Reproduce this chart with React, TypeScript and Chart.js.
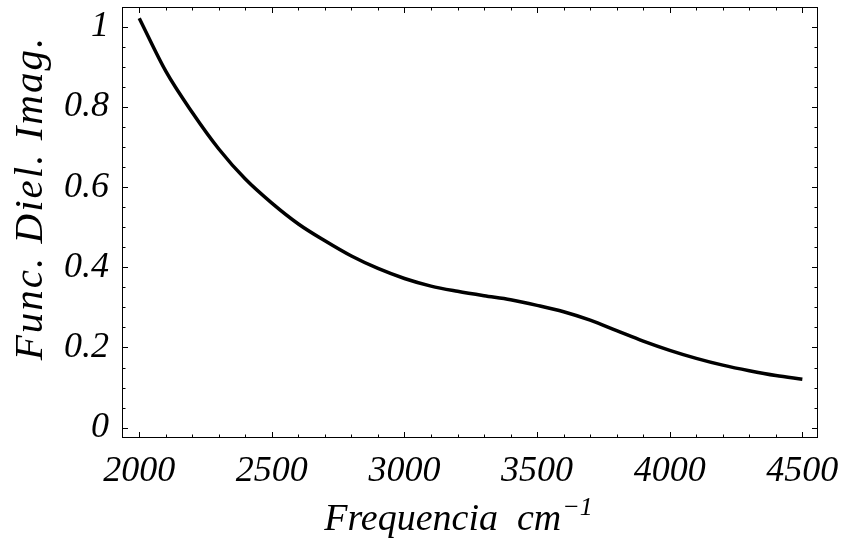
import React, { useEffect, useRef } from "react";
import { Chart, registerables } from "chart.js";

Chart.register(...registerables);

// ---- data ----
const frequencies = [
  2000, 2100, 2200, 2300, 2400, 2500, 2600, 2700, 2800, 2900, 3000, 3100, 3200,
  3300, 3400, 3500, 3600, 3700, 3800, 3900, 4000, 4100, 4200, 4300, 4400, 4500,
];
const dielImag = [
  1.021, 0.889, 0.786, 0.695, 0.62, 0.56, 0.508, 0.466, 0.428, 0.397, 0.372,
  0.353, 0.34, 0.329, 0.319, 0.305, 0.289, 0.268, 0.242, 0.216, 0.193, 0.173,
  0.156, 0.142, 0.13, 0.121,
];
const xTickValues = [2000, 2500, 3000, 3500, 4000, 4500];
const yTickValues = [0, 0.2, 0.4, 0.6, 0.8, 1];
const xMinorTicks = [
  2000, 2100, 2200, 2300, 2400, 2500, 2600, 2700, 2800, 2900, 3000, 3100, 3200,
  3300, 3400, 3500, 3600, 3700, 3800, 3900, 4000, 4100, 4200, 4300, 4400, 4500,
];
const yMinorTicks = [
  0, 0.05, 0.1, 0.15, 0.2, 0.25, 0.3, 0.35, 0.4, 0.45, 0.5, 0.55, 0.6, 0.65, 0.7,
  0.75, 0.8, 0.85, 0.9, 0.95, 1,
];
const xTitle = "Frequencia  cm";
const xTitleSup = "\u22121";
const yTitle = "Func. Diel. Imag.";

const FONT = "'Liberation Serif', 'Times New Roman', serif";

const framePlugin = {
  id: "frameTicks",
  afterDatasetsDraw(chart: any) {
    const { ctx, chartArea, scales } = chart;
    const { left, right, top, bottom } = chartArea;
    const xs = scales.x;
    const ys = scales.y;
    ctx.save();
    ctx.strokeStyle = "#000";
    ctx.lineWidth = 1;
    ctx.strokeRect(left + 0.5, top + 0.5, right - left - 1, bottom - top - 1);
    ctx.beginPath();
    xMinorTicks.forEach((v) => {
      const major = xTickValues.includes(v);
      const len = major ? 6 : 3.5;
      const px = Math.round(xs.getPixelForValue(v)) + 0.5;
      ctx.moveTo(px, bottom);
      ctx.lineTo(px, bottom - len);
      ctx.moveTo(px, top);
      ctx.lineTo(px, top + len);
    });
    yMinorTicks.forEach((v) => {
      const major = yTickValues.some((t) => Math.abs(t - v) < 1e-9);
      const len = major ? 6 : 3.5;
      const py = Math.round(ys.getPixelForValue(v)) + 0.5;
      ctx.moveTo(left, py);
      ctx.lineTo(left + len, py);
      ctx.moveTo(right, py);
      ctx.lineTo(right - len, py);
    });
    ctx.stroke();
    ctx.restore();
  },
  afterDraw(chart: any) {
    const { ctx } = chart;
    ctx.save();
    ctx.fillStyle = "#000";
    // x title with superscript
    ctx.textBaseline = "alphabetic";
    ctx.textAlign = "left";
    ctx.font = `italic 38px ${FONT}`;
    const w1 = ctx.measureText(xTitle).width;
    ctx.font = `italic 26px ${FONT}`;
    const w2 = ctx.measureText(xTitleSup).width;
    const startX = 458 - (w1 + w2) / 2;
    ctx.font = `italic 38px ${FONT}`;
    ctx.fillText(xTitle, startX, 530);
    ctx.font = `italic 26px ${FONT}`;
    ctx.fillText(xTitleSup, startX + w1 + 1, 515);
    // y title rotated
    ctx.translate(42, 198);
    ctx.rotate(-Math.PI / 2);
    ctx.textAlign = "center";
    ctx.font = `italic 41px ${FONT}`;
    (ctx as any).letterSpacing = "2px";
    ctx.fillText(yTitle, 0, 0);
    (ctx as any).letterSpacing = "0px";
    ctx.restore();
  },
};

export default function App() {
  const ref = useRef<HTMLCanvasElement | null>(null);
  useEffect(() => {
    if (!ref.current) return;
    const chart = new Chart(ref.current, {
      type: "line",
      data: {
        datasets: [
          {
            data: frequencies.map((f, i) => ({ x: f, y: dielImag[i] })),
            borderColor: "#000",
            borderWidth: 3.5,
            pointRadius: 0,
            cubicInterpolationMode: "monotone",
            fill: false,
          },
        ],
      },
      options: {
        animation: false,
        responsive: false,
        devicePixelRatio: 1,
        layout: { padding: { top: 7, right: 29, left: 0, bottom: 0 } },
        plugins: { legend: { display: false }, tooltip: { enabled: false } },
        scales: {
          x: {
            type: "linear",
            min: 1935,
            max: 4559,
            grid: { display: false, drawTicks: false },
            border: { display: false },
            afterFit: (s: any) => {
              s.height = 108;
              s.paddingLeft = 0;
              s.paddingRight = 0;
              s.paddingTop = 0;
              s.paddingBottom = 0;
            },
            afterBuildTicks: (s: any) => {
              s.ticks = xTickValues.map((v) => ({ value: v }));
            },
            ticks: {
              autoSkip: false,
              maxRotation: 0,
              padding: 12,
              color: "#000",
              font: { family: FONT, style: "italic", size: 36 },
              callback: (v: any) => String(v),
            },
          },
          y: {
            type: "linear",
            min: -0.0257,
            max: 1.049,
            grid: { display: false, drawTicks: false },
            border: { display: false },
            afterFit: (s: any) => {
              s.width = 122;
              s.paddingLeft = 0;
              s.paddingRight = 0;
              s.paddingTop = 0;
              s.paddingBottom = 0;
            },
            afterBuildTicks: (s: any) => {
              s.ticks = yTickValues.map((v) => ({ value: v }));
            },
            ticks: {
              autoSkip: false,
              padding: 13,
              color: "#000",
              font: { family: FONT, style: "italic", size: 36 },
              callback: (v: any) => String(Number(Number(v).toFixed(2))),
            },
          },
        },
      },
      plugins: [framePlugin],
    } as any);
    return () => chart.destroy();
  }, []);
  return (
    <div style={{ position: "fixed", left: 0, top: 0, width: 847, height: 546, background: "#fff" }}>
      <canvas ref={ref} width={847} height={546} />
    </div>
  );
}
